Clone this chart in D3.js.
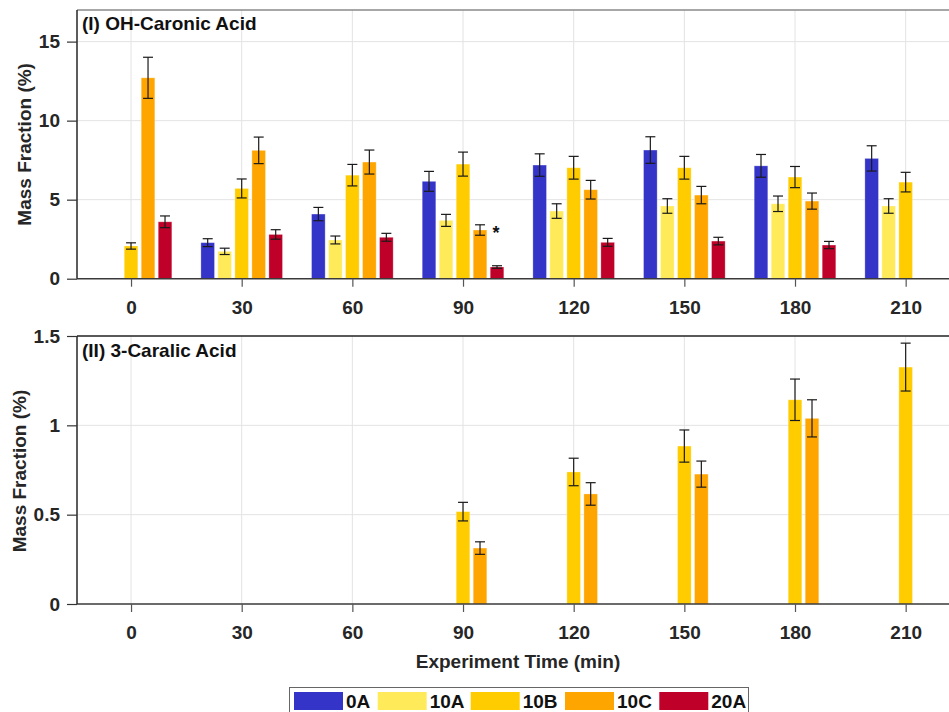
<!DOCTYPE html>
<html><head><meta charset="utf-8">
<script src="https://cdn.jsdelivr.net/npm/d3@7"></script>
<style>
html,body{margin:0;padding:0;background:#fff;overflow:hidden;}
svg{display:block;font-family:"Liberation Sans",Arial,sans-serif;}
</style></head>
<body>
<svg id="chart" width="949" height="712"></svg>
<script>
// ---------- data ----------
const times = [0, 30, 60, 90, 120, 150, 180, 210];
const series = ["0A", "10A", "10B", "10C", "20A"];
const seriesColors = ["#3434C8", "#FFEB5A", "#FFCC00", "#FFA500", "#BF0028"];

// Panel I: OH-Caronic Acid (mass fraction %)
const caronic_0A  = [null, 2.28, 4.09, 6.16, 7.19, 8.14, 7.14, 7.61];
const caronic_10A = [null, 1.73, 2.45, 3.69, 4.28, 4.60, 4.74, 4.60];
const caronic_10B = [2.07, 5.71, 6.55, 7.25, 7.02, 7.02, 6.43, 6.11];
const caronic_10C = [12.71, 8.12, 7.38, 3.08, 5.63, 5.29, 4.91, null];
const caronic_20A = [3.60, 2.80, 2.62, 0.74, 2.30, 2.38, 2.13, null];
const caronicErr_0A  = [null, 0.25, 0.42, 0.63, 0.71, 0.84, 0.72, 0.80];
const caronicErr_10A = [null, 0.20, 0.25, 0.38, 0.46, 0.46, 0.49, 0.46];
const caronicErr_10B = [0.20, 0.60, 0.68, 0.76, 0.72, 0.72, 0.67, 0.62];
const caronicErr_10C = [1.30, 0.84, 0.76, 0.33, 0.59, 0.55, 0.51, null];
const caronicErr_20A = [0.37, 0.30, 0.25, 0.08, 0.25, 0.24, 0.23, null];

// Panel II: 3-Caralic Acid (mass fraction %)
const caralic_10B = [null, null, null, 0.517, 0.739, 0.884, 1.143, 1.326];
const caralic_10C = [null, null, null, 0.313, 0.616, 0.727, 1.039, null];
const caralicErr_10B = [null, null, null, 0.052, 0.077, 0.090, 0.116, 0.134];
const caralicErr_10C = [null, null, null, 0.035, 0.063, 0.073, 0.104, null];

const yTicksTop = [0, 5, 10, 15];
const yTicksBottom = [0, 0.5, 1, 1.5];
const yTickLabelsBottom = ["0", "0.5", "1", "1.5"];
const significance = [{panel: "I", time: 90, series: "20A", label: "*"}];

// ---------- build tables ----------
function table(valsBySeries, errsBySeries) {
  const rows = [];
  Object.keys(valsBySeries).forEach(s => {
    valsBySeries[s].forEach((v, i) => {
      if (v != null) rows.push({series: s, time: times[i], value: v, err: errsBySeries[s][i]});
    });
  });
  return rows;
}
const topData = table(
  {"0A": caronic_0A, "10A": caronic_10A, "10B": caronic_10B, "10C": caronic_10C, "20A": caronic_20A},
  {"0A": caronicErr_0A, "10A": caronicErr_10A, "10B": caronicErr_10B, "10C": caronicErr_10C, "20A": caronicErr_20A});
const bottomData = table(
  {"10B": caralic_10B, "10C": caralic_10C},
  {"10B": caralicErr_10B, "10C": caralicErr_10C});

// ---------- scales ----------
const svg = d3.select("#chart");
const W = 949;
const left = 77;
const x = d3.scaleLinear().domain([-15, 225]).range([75.7, 961]);
const stepPx = x(30) - x(0);
const inner = d3.scaleBand().domain(series).range([-0.3687 * stepPx, 0.3687 * stepPx]).paddingInner(0.2);
const color = d3.scaleOrdinal().domain(series).range(seriesColors);

const panels = [
  {id: "I", title: "(I) OH-Caronic Acid", data: topData, top: 10, bottom: 278.7, domain: [0, 17],
   ticks: yTicksTop, tickLabels: yTicksTop.map(String), topLine: "#8a8a8a", titleY: 30, axisTitleX: 24},
  {id: "II", title: "(II) 3-Caralic Acid", data: bottomData, top: 336, bottom: 604, domain: [0, 1.5],
   ticks: yTicksBottom, tickLabels: yTickLabelsBottom, topLine: "#262626", titleY: 357, axisTitleX: 19}
];

const fontSize = 19;
const txtColor = "#262626";

panels.forEach(p => {
  const y = d3.scaleLinear().domain(p.domain).range([p.bottom, p.top]);
  const g = svg.append("g");

  // grid
  g.append("g").selectAll("line.vg").data(times).join("line")
    .attr("x1", d => x(d)).attr("x2", d => x(d))
    .attr("y1", p.top).attr("y2", p.bottom)
    .attr("stroke", "#e3e3e3").attr("stroke-width", 1);
  g.append("g").selectAll("line.hg").data(p.ticks.filter(t => t > 0)).join("line")
    .attr("x1", left).attr("x2", W)
    .attr("y1", d => y(d)).attr("y2", d => y(d))
    .attr("stroke", "#e3e3e3").attr("stroke-width", 1);

  // bars
  const bw = inner.bandwidth();
  g.append("g").selectAll("rect").data(p.data).join("rect")
    .attr("x", d => x(d.time) + inner(d.series))
    .attr("y", d => y(d.value))
    .attr("width", bw)
    .attr("height", d => y(0) - y(d.value))
    .attr("fill", d => color(d.series))
    .attr("stroke", "#ffffff").attr("stroke-opacity", 0.35).attr("stroke-width", 0.8);

  // error bars
  const cap = 5;
  const eg = g.append("g").attr("stroke", "#1a1a1a").attr("stroke-width", 1.2).attr("fill", "none");
  p.data.forEach(d => {
    const cx = x(d.time) + inner(d.series) + bw / 2;
    const y1 = y(d.value + d.err), y2 = y(d.value - d.err);
    eg.append("line").attr("x1", cx).attr("x2", cx).attr("y1", y1).attr("y2", y2);
    eg.append("line").attr("x1", cx - cap).attr("x2", cx + cap).attr("y1", y1).attr("y2", y1);
    eg.append("line").attr("x1", cx - cap).attr("x2", cx + cap).attr("y1", y2).attr("y2", y2);
  });

  // top border
  g.append("line").attr("x1", left).attr("x2", W).attr("y1", p.top).attr("y2", p.top)
    .attr("stroke", p.topLine).attr("stroke-width", 1.5);

  // x axis
  const xAxis = d3.axisBottom(x).tickValues(times).tickFormat(d3.format("d"))
    .tickSizeInner(8).tickSizeOuter(0).tickPadding(14);
  const gx = g.append("g").attr("transform", `translate(0,${p.bottom})`).call(xAxis);
  gx.select(".domain").attr("d", `M${left},0H${W}`).attr("stroke", "#3a3a3a").attr("stroke-width", 1.5);
  gx.selectAll(".tick line").attr("stroke", "#555").attr("stroke-width", 1.2);
  gx.selectAll("text").attr("font-size", fontSize).attr("font-weight", "bold").attr("fill", txtColor)
    .attr("font-family", "Liberation Sans, Arial, sans-serif");

  // y axis
  const yAxis = d3.axisLeft(y).tickValues(p.ticks).tickFormat((d, i) => p.tickLabels[i])
    .tickSizeInner(10).tickSizeOuter(0).tickPadding(7);
  const gy = g.append("g").attr("transform", `translate(${left},0)`).call(yAxis);
  gy.select(".domain").attr("d", `M0,${p.bottom}V${p.top}`).attr("stroke", "#262626").attr("stroke-width", 1.5);
  gy.selectAll(".tick line").attr("stroke", "#333").attr("stroke-width", 1.2);
  gy.selectAll("text").attr("font-size", fontSize).attr("font-weight", "bold").attr("fill", txtColor)
    .attr("font-family", "Liberation Sans, Arial, sans-serif");

  // panel title
  g.append("text").attr("x", 82).attr("y", p.titleY).text(p.title)
    .attr("font-size", fontSize).attr("font-weight", "bold").attr("fill", "#111");

  // y axis title
  g.append("text")
    .attr("transform", `translate(${p.axisTitleX},${(p.top + p.bottom) / 2 + (p.id === "I" ? 0 : 1)}) rotate(-90)`)
    .attr("text-anchor", "middle").attr("dominant-baseline", "central")
    .text("Mass Fraction (%)")
    .attr("font-size", fontSize).attr("font-weight", "bold").attr("fill", txtColor);

  // significance marks
  significance.filter(s => s.panel === p.id).forEach(s => {
    const cx = x(s.time) + inner(s.series) + bw / 2;
    const ref = p.data.find(d => d.time === s.time && d.series === "10C");
    g.append("text").attr("x", cx - 1).attr("y", y(ref.value) + 9).attr("text-anchor", "middle")
      .text(s.label).attr("font-size", 18).attr("font-weight", "bold").attr("fill", "#111");
  });
});

// x axis title
svg.append("text").attr("x", 518).attr("y", 668).attr("text-anchor", "middle")
  .text("Experiment Time (min)")
  .attr("font-size", fontSize).attr("font-weight", "bold").attr("fill", txtColor);

// legend
const lg = svg.append("g");
lg.append("rect").attr("x", 289.5).attr("y", 687.5).attr("width", 459).attr("height", 40)
  .attr("fill", "#fff").attr("stroke", "#666").attr("stroke-width", 1);
const legendX = [294, 377.7, 470.7, 565, 659.3];
series.forEach((s, i) => {
  lg.append("rect").attr("x", legendX[i]).attr("y", 692).attr("width", 49).attr("height", 18)
    .attr("fill", color(s));
  lg.append("text").attr("x", legendX[i] + 52).attr("y", 708).text(s)
    .attr("font-size", fontSize).attr("font-weight", "bold").attr("fill", "#111");
});
</script>
</body></html>
